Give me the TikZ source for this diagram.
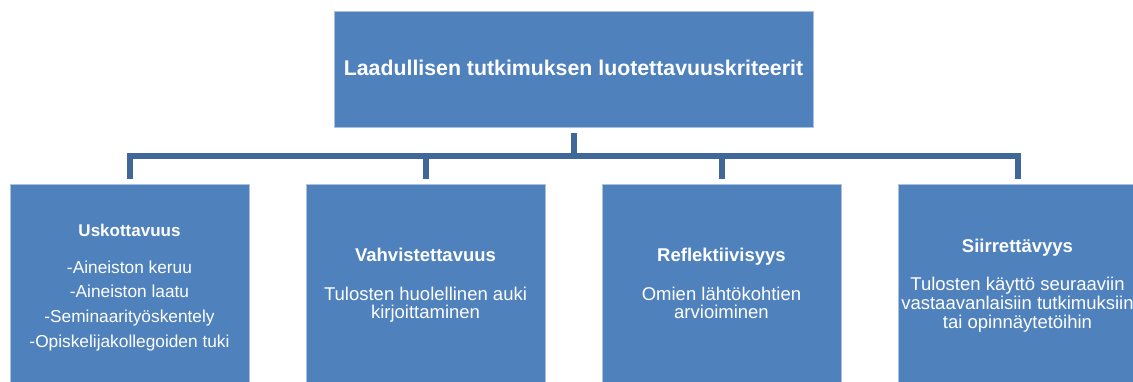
\documentclass[tikz,border=0pt]{standalone}
\usepackage{fontspec}
\setmainfont{Liberation Sans}
\definecolor{boxblue}{HTML}{4F81BD}
\definecolor{boxedge}{HTML}{A9C0DF}
\definecolor{connblue}{HTML}{3F6797}
\begin{document}
\begin{tikzpicture}[x=1pt,y=-1pt,
  box/.style={rectangle, fill=boxblue, draw=boxedge, line width=0.8pt, inner sep=0pt},
  smallbox/.style={box, minimum width=239pt, minimum height=211pt},
  conn/.style={draw=connblue, line width=6pt},
  txt/.style={anchor=base, text=white, inner sep=0pt},
  headA/.style={txt, font=\bfseries\fontsize{21.3}{25}\selectfont},
  headB/.style={txt, font=\bfseries\fontsize{18.5}{22}\selectfont},
  bodyB/.style={txt, font=\fontsize{18.5}{22}\selectfont},
  headC/.style={txt, font=\bfseries\fontsize{17}{20}\selectfont},
  bodyC/.style={txt, font=\fontsize{17.3}{20}\selectfont}]
\clip (0,0) rectangle (1133,381);
\fill[white] (0,0) rectangle (1133,381);

% boxes
\node[box, minimum width=479pt, minimum height=116pt] (top) at (573.5,69) {};
\node[smallbox] (b1) at (129.5,289.5) {};
\node[smallbox] (b2) at (425.5,289.5) {};
\node[smallbox] (b3) at (721.5,289.5) {};
\node[smallbox] (b4) at (1017.5,289.5) {};

% connectors
\coordinate (bus) at (573.5,156);
\draw[conn] ([yshift=-6pt]top.south) -- (bus);
\draw[conn] ([yshift=5pt]b1.north) |- (bus) -| ([yshift=5pt]b4.north);
\draw[conn] ([yshift=5pt]b2.north) -- (b2.north |- bus);
\draw[conn] ([yshift=5pt]b3.north) -- (b3.north |- bus);

% texts
\node[headA] (tt) at (573.5,75) {Laadullisen tutkimuksen luotettavuuskriteerit};

\node[headC] (h1) at (129.5,236) {Uskottavuus};
\node[bodyC] (l1a) at (129.5,273) {-Aineiston keruu};
\node[bodyC] (l1b) at (129.5,297.5) {-Aineiston laatu};
\node[bodyC] (l1c) at (129.5,322.5) {-Seminaarityöskentely};
\node[bodyC] (l1d) at (129.5,347) {-Opiskelijakollegoiden tuki};

\node[headB] (h2) at (425.5,261) {Vahvistettavuus};
\node[bodyB] (l2a) at (425.5,300) {Tulosten huolellinen auki};
\node[bodyB] (l2b) at (425.5,318) {kirjoittaminen};

\node[headB] (h3) at (721.5,261) {Reflektiivisyys};
\node[bodyB] (l3a) at (721.5,300) {Omien lähtökohtien};
\node[bodyB] (l3b) at (721.5,318) {arvioiminen};

\node[headB] (h4) at (1017.5,252) {Siirrettävyys};
\node[bodyB] (l4a) at (1017.5,290) {Tulosten käyttö seuraaviin};
\node[bodyB] (l4b) at (1017.5,309) {vastaavanlaisiin tutkimuksiin};
\node[bodyB] (l4c) at (1017.5,328) {tai opinnäytetöihin};
\end{tikzpicture}
\end{document}
